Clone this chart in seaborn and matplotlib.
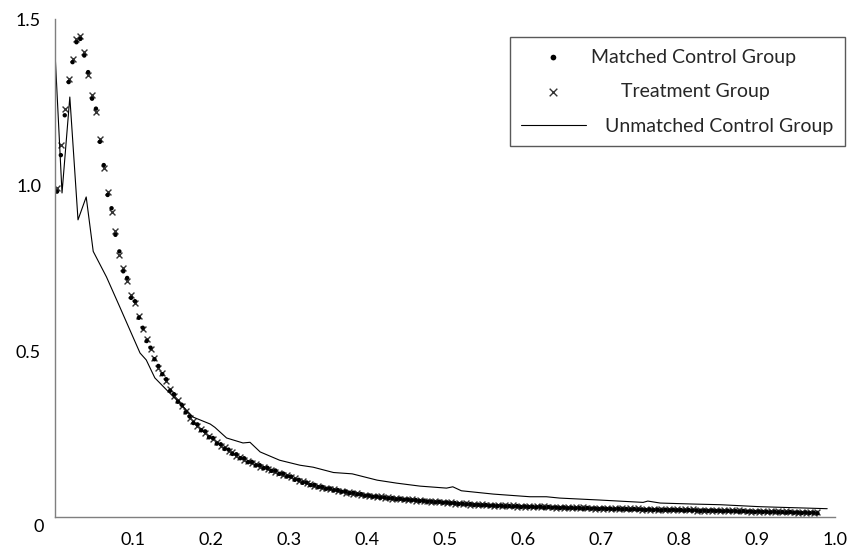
import matplotlib
matplotlib.use("Agg")
import pandas as pd
import matplotlib.pyplot as plt
import matplotlib.transforms as mtransforms
import seaborn as sns

# sample positions shared by the two scatter groups
x_pts = [
    0.0025, 0.0075, 0.0125, 0.0175, 0.0225, 0.0275, 0.0325, 0.0375, 0.0425, 0.0475,
    0.0525, 0.0575, 0.0625, 0.0675, 0.0725, 0.0775, 0.0825, 0.0875, 0.0925, 0.0975,
    0.1025, 0.1075, 0.1125, 0.1175, 0.1225, 0.1275, 0.1325, 0.1375, 0.1425, 0.1475,
    0.1525, 0.1575, 0.1625, 0.1675, 0.1725, 0.1775, 0.1825, 0.1875, 0.1925, 0.1975,
    0.2025, 0.2075, 0.2125, 0.2175, 0.2225, 0.2275, 0.2325, 0.2375, 0.2425, 0.2475,
    0.2525, 0.2575, 0.2625, 0.2675, 0.2725, 0.2775, 0.2825, 0.2875, 0.2925, 0.2975,
    0.3025, 0.3075, 0.3125, 0.3175, 0.3225, 0.3275, 0.3325, 0.3375, 0.3425, 0.3475,
    0.3525, 0.3575, 0.3625, 0.3675, 0.3725, 0.3775, 0.3825, 0.3875, 0.3925, 0.3975,
    0.4025, 0.4075, 0.4125, 0.4175, 0.4225, 0.4275, 0.4325, 0.4375, 0.4425, 0.4475,
    0.4525, 0.4575, 0.4625, 0.4675, 0.4725, 0.4775, 0.4825, 0.4875, 0.4925, 0.4975,
    0.5025, 0.5075, 0.5125, 0.5175, 0.5225, 0.5275, 0.5325, 0.5375, 0.5425, 0.5475,
    0.5525, 0.5575, 0.5625, 0.5675, 0.5725, 0.5775, 0.5825, 0.5875, 0.5925, 0.5975,
    0.6025, 0.6075, 0.6125, 0.6175, 0.6225, 0.6275, 0.6325, 0.6375, 0.6425, 0.6475,
    0.6525, 0.6575, 0.6625, 0.6675, 0.6725, 0.6775, 0.6825, 0.6875, 0.6925, 0.6975,
    0.7025, 0.7075, 0.7125, 0.7175, 0.7225, 0.7275, 0.7325, 0.7375, 0.7425, 0.7475,
    0.7525, 0.7575, 0.7625, 0.7675, 0.7725, 0.7775, 0.7825, 0.7875, 0.7925, 0.7975,
    0.8025, 0.8075, 0.8125, 0.8175, 0.8225, 0.8275, 0.8325, 0.8375, 0.8425, 0.8475,
    0.8525, 0.8575, 0.8625, 0.8675, 0.8725, 0.8775, 0.8825, 0.8875, 0.8925, 0.8975,
    0.9025, 0.9075, 0.9125, 0.9175, 0.9225, 0.9275, 0.9325, 0.9375, 0.9425, 0.9475,
    0.9525, 0.9575, 0.9625, 0.9675, 0.9725, 0.9775,
]

y_treatment = [
    0.99, 1.12, 1.23, 1.32, 1.38, 1.44, 1.45, 1.40, 1.33, 1.27,
    1.22, 1.14, 1.05, 0.98, 0.92, 0.86, 0.79, 0.75, 0.71, 0.67,
    0.645, 0.605, 0.565, 0.535, 0.505, 0.48, 0.45, 0.435, 0.41, 0.385,
    0.365, 0.352, 0.333, 0.32, 0.298, 0.288, 0.274, 0.266, 0.253, 0.245,
    0.234, 0.226, 0.215, 0.21, 0.199, 0.195, 0.185, 0.181, 0.173, 0.169,
    0.162, 0.159, 0.152, 0.151, 0.144, 0.143, 0.136, 0.134, 0.127, 0.126,
    0.119, 0.116, 0.109, 0.107, 0.101, 0.099, 0.093, 0.093, 0.087, 0.088,
    0.083, 0.083, 0.078, 0.079, 0.073, 0.075, 0.07, 0.071, 0.066, 0.067,
    0.063, 0.064, 0.06, 0.062, 0.057, 0.059, 0.055, 0.057, 0.053, 0.055,
    0.051, 0.053, 0.049, 0.051, 0.047, 0.049, 0.045, 0.047, 0.044, 0.045,
    0.042, 0.044, 0.04, 0.042, 0.038, 0.041, 0.037, 0.039, 0.035, 0.038,
    0.035, 0.037, 0.034, 0.036, 0.033, 0.035, 0.032, 0.035, 0.031, 0.034,
    0.031, 0.033, 0.03, 0.033, 0.029, 0.032, 0.029, 0.031, 0.028, 0.031,
    0.027, 0.03, 0.027, 0.029, 0.026, 0.029, 0.026, 0.028, 0.025, 0.028,
    0.025, 0.027, 0.024, 0.027, 0.024, 0.026, 0.023, 0.026, 0.023, 0.026,
    0.022, 0.025, 0.022, 0.025, 0.021, 0.024, 0.021, 0.024, 0.021, 0.023,
    0.02, 0.023, 0.02, 0.023, 0.019, 0.022, 0.019, 0.022, 0.019, 0.021,
    0.018, 0.021, 0.018, 0.02, 0.017, 0.02, 0.017, 0.019, 0.016, 0.019,
    0.016, 0.018, 0.015, 0.018, 0.015, 0.017, 0.014, 0.017, 0.014, 0.016,
    0.013, 0.016, 0.013, 0.015, 0.012, 0.015,
]

y_matched = [
    0.98, 1.09, 1.21, 1.31, 1.37, 1.43, 1.44, 1.39, 1.34, 1.26,
    1.23, 1.13, 1.06, 0.97, 0.93, 0.85, 0.8, 0.74, 0.72, 0.66,
    0.65, 0.6, 0.57, 0.53, 0.51, 0.475, 0.455, 0.43, 0.415, 0.38,
    0.37, 0.347, 0.338, 0.315, 0.303, 0.283, 0.279, 0.261, 0.258, 0.24,
    0.238, 0.221, 0.219, 0.205, 0.203, 0.19, 0.189, 0.177, 0.177, 0.165,
    0.166, 0.155, 0.156, 0.147, 0.148, 0.139, 0.14, 0.13, 0.131, 0.122,
    0.122, 0.112, 0.112, 0.103, 0.104, 0.096, 0.097, 0.09, 0.091, 0.085,
    0.086, 0.08, 0.081, 0.076, 0.077, 0.072, 0.073, 0.068, 0.069, 0.064,
    0.065, 0.061, 0.062, 0.058, 0.059, 0.056, 0.057, 0.053, 0.055, 0.052,
    0.053, 0.05, 0.051, 0.048, 0.049, 0.046, 0.047, 0.044, 0.046, 0.043,
    0.044, 0.041, 0.042, 0.039, 0.04, 0.038, 0.039, 0.036, 0.037, 0.035,
    0.036, 0.034, 0.035, 0.033, 0.034, 0.032, 0.033, 0.031, 0.033, 0.03,
    0.032, 0.03, 0.031, 0.029, 0.031, 0.028, 0.03, 0.028, 0.029, 0.027,
    0.029, 0.026, 0.028, 0.026, 0.027, 0.025, 0.027, 0.025, 0.026, 0.024,
    0.026, 0.024, 0.025, 0.023, 0.025, 0.023, 0.024, 0.022, 0.024, 0.022,
    0.023, 0.021, 0.023, 0.021, 0.022, 0.02, 0.022, 0.02, 0.022, 0.02,
    0.021, 0.019, 0.021, 0.019, 0.02, 0.018, 0.02, 0.018, 0.02, 0.018,
    0.019, 0.017, 0.019, 0.017, 0.018, 0.016, 0.018, 0.016, 0.017, 0.015,
    0.017, 0.015, 0.016, 0.014, 0.016, 0.014, 0.015, 0.013, 0.015, 0.013,
    0.014, 0.012, 0.014, 0.012, 0.013, 0.011,
]

x_unmatched = [0.0, 0.009, 0.019, 0.0295, 0.040, 0.049, 0.066, 0.083, 0.100, 0.109,
               0.117, 0.128, 0.143, 0.160, 0.177, 0.199, 0.205, 0.22, 0.241, 0.25,
               0.263, 0.288, 0.314, 0.331, 0.357, 0.381, 0.413, 0.438, 0.468, 0.502,
               0.51, 0.521, 0.562, 0.609, 0.63, 0.647, 0.699, 0.754, 0.76, 0.776,
               0.818, 0.853, 0.904, 0.99]
y_unmatched = [1.40, 0.976, 1.265, 0.895, 0.964, 0.80, 0.723, 0.633, 0.542, 0.494,
               0.473, 0.419, 0.383, 0.343, 0.301, 0.28, 0.27, 0.238, 0.223, 0.225,
               0.196, 0.171, 0.156, 0.15, 0.134, 0.13, 0.111, 0.102, 0.093, 0.087,
               0.091, 0.079, 0.069, 0.061, 0.061, 0.057, 0.051, 0.044, 0.048, 0.042,
               0.039, 0.037, 0.031, 0.025]

x_ticks = [0.1, 0.2, 0.3, 0.4, 0.5, 0.6, 0.7, 0.8, 0.9, 1.0]
x_tick_labels = ["0.1", "0.2", "0.3", "0.4", "0.5", "0.6", "0.7", "0.8", "0.9", "1.0"]
y_ticks = [0, 0.5, 1.0, 1.5]
y_tick_labels = ["0", "0.5", "1.0", "1.5"]

series_names = ["Matched Control Group", "Treatment Group", "Unmatched Control Group"]

pts = pd.DataFrame({"x": x_pts, "treat": y_treatment, "matched": y_matched})
line_df = pd.DataFrame({"x": x_unmatched, "y": y_unmatched})

sns.set_style("white")
plt.rcParams["font.family"] = ["Lato", "DejaVu Sans"]

fig = plt.figure(figsize=(8.51, 5.54), dpi=100)
ax = fig.add_axes([55 / 851, 1 - 517 / 554, 780 / 851, 498 / 554])

sns.lineplot(data=line_df, x="x", y="y", ax=ax, color="black", linewidth=0.8,
             estimator=None, sort=False, label=series_names[2])
sns.scatterplot(data=pts, x="x", y="treat", ax=ax, marker="x", s=18,
                color="#333333", linewidth=1.0, label=series_names[1])
sns.scatterplot(data=pts, x="x", y="matched", ax=ax, marker="o", s=10,
                color="black", edgecolor="none", label=series_names[0])

ax.set_xlim(0, 1.0)
ax.set_ylim(0, 1.5)
ax.set_xticks(x_ticks)
ax.set_xticklabels(x_tick_labels)
ax.set_yticks(y_ticks)
ax.set_yticklabels(y_tick_labels)
ax.set_xlabel("")
ax.set_ylabel("")
sns.despine(ax=ax)
for side in ["left", "bottom"]:
    ax.spines[side].set_color("#7f7f7f")
    ax.spines[side].set_linewidth(1.0)
ax.tick_params(axis="both", direction="in", length=5, width=1.0,
               color="#7f7f7f", labelsize=13, labelcolor="black")
ax.tick_params(axis="x", pad=11)
ax.tick_params(axis="y", pad=10)

# the "0" label sits a little lower and to the right in the original
zero_lbl = ax.get_yticklabels()[0]
zero_lbl.set_transform(zero_lbl.get_transform() +
                       mtransforms.ScaledTranslation(0.03, -0.09, fig.dpi_scale_trans))

handles, labels = ax.get_legend_handles_labels()
order = [labels.index(n) for n in series_names]
leg = ax.legend([handles[i] for i in order], [labels[i] for i in order],
                loc="upper right", bbox_to_anchor=(845 / 851, 1 - 37 / 554),
                bbox_transform=fig.transFigure, borderaxespad=0,
                fontsize=14, frameon=True, fancybox=False, framealpha=1,
                edgecolor="#595959", handlelength=3.3, handletextpad=1.0,
                labelspacing=0.9, borderpad=0.6, markerscale=1.3)
leg.get_frame().set_linewidth(1.0)
texts = leg.get_texts()
texts[0].set_x(-14)
texts[1].set_x(16)

fig.savefig("out.png", dpi=100)
